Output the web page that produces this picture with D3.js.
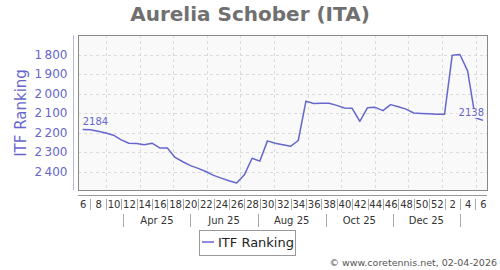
<!DOCTYPE html>
<html>
<head>
<meta charset="utf-8">
<script src="https://cdn.jsdelivr.net/npm/d3@7/dist/d3.min.js"></script>
<style>
	body { margin: 0; background: #fff; }
	svg { display: block; font-family: "DejaVu Sans", sans-serif; }
</style>
</head>
<body>
<svg id="chart" width="500" height="270"></svg>
<script>
(function() {

	// weekly ITF ranking, week 6 2025 -> week 6 2026
	var ranking = [2184, 2186, 2194, 2203, 2214, 2238, 2255, 2257, 2263, 2255,
		2279, 2280, 2328, 2350, 2370, 2384, 2400, 2420, 2434, 2447,
		2459, 2417, 2332, 2347, 2243, 2255, 2263, 2271, 2241, 2039,
		2051, 2050, 2050, 2061, 2074, 2076, 2143, 2073, 2071, 2088,
		2057, 2068, 2080, 2100, 2102, 2104, 2107, 2107, 1804, 1800,
		1884, 2124, 2138];
	var firstWeek = new Date(2025, 1, 8);
	var weekLabels = [6, 8, 10, 12, 14, 16, 18, 20, 22, 24, 26, 28, 30, 32, 34, 36, 38, 40, 42, 44, 46, 48, 50, 52, 2, 4, 6];
	var monthLabels = ['Apr 25', 'Jun 25', 'Aug 25', 'Oct 25', 'Dec 25'];
	var monthStarts = ['2025-03-01', '2025-04-01', '2025-05-01', '2025-06-01', '2025-07-01', '2025-08-01',
		'2025-09-01', '2025-10-01', '2025-11-01', '2025-12-01', '2026-01-01', '2026-02-01'];
	var monthSeps = ['2025-03-17', '2025-05-17', '2025-07-17', '2025-09-17', '2025-11-17', '2026-01-17'];
	var yTicks = [1800, 1900, 2000, 2100, 2200, 2300, 2400];

	var plotLeft = 78, plotRight = 487, plotTop = 35, plotBottom = 190,
		lineColor = '#6666cc',
		parse = d3.timeParse('%Y-%m-%d');

	var data = ranking.map(function(v, i) { return { date: d3.timeDay.offset(firstWeek, 7 * i), value: v }; });

	var x = d3.scaleTime()
		.domain([data[0].date, data[data.length - 1].date])
		.range([82.7, 483]);
	var y = d3.scaleLinear().domain([1700, 2500]).range([35, 191]);

	var svg = d3.select('#chart');

	svg.append('text')
		.attr('x', 250).attr('y', 21)
		.attr('text-anchor', 'middle')
		.attr('font-size', 20).attr('font-weight', 'bold')
		.attr('fill', '#707070')
		.text('Aurelia Schober (ITA)');

	// plot background
	svg.append('rect')
		.attr('x', plotLeft + 0.5).attr('y', plotTop + 0.5)
		.attr('width', plotRight - plotLeft).attr('height', plotBottom - plotTop)
		.attr('fill', '#f9f9f9');

	var grid = svg.append('g')
		.attr('stroke', '#dadada').attr('stroke-dasharray', '3,3').attr('stroke-width', 1);
	grid.selectAll('.hg').data(yTicks).enter().append('line')
		.attr('x1', plotLeft).attr('x2', plotRight)
		.attr('y1', function(d) { return Math.round(y(d)) + 0.5; })
		.attr('y2', function(d) { return Math.round(y(d)) + 0.5; });
	grid.selectAll('.vg').data(monthStarts).enter().append('line')
		.attr('y1', plotTop).attr('y2', plotBottom)
		.attr('x1', function(d) { return Math.round(x(parse(d))) + 0.5; })
		.attr('x2', function(d) { return Math.round(x(parse(d))) + 0.5; });

	svg.append('rect')
		.attr('x', plotLeft + 0.5).attr('y', plotTop + 0.5)
		.attr('width', plotRight - plotLeft).attr('height', plotBottom - plotTop)
		.attr('fill', 'none').attr('stroke', '#888');

	// y axis
	var fmt = function(d) { return d3.format(',')(d).replace(',', '\u2009'); };
	var yAxis = svg.append('g')
		.attr('transform', 'translate(73.5,0)')
		.call(d3.axisLeft(y).tickValues(yTicks).tickSize(0).tickPadding(6).tickFormat(fmt));
	yAxis.select('.domain').attr('stroke', '#b8b8e6').attr('d', 'M0,' + plotTop + 'V' + plotBottom);
	yAxis.selectAll('text')
		.attr('font-size', 12).attr('fill', lineColor)
		.attr('font-family', '"DejaVu Sans", sans-serif');

	svg.append('text')
		.attr('transform', 'translate(26,113) rotate(-90)')
		.attr('text-anchor', 'middle')
		.attr('font-size', 15).attr('fill', lineColor)
		.text('ITF Ranking');

	// x axis: weeks
	var labelDates = data.filter(function(d, i) { return i % 2 === 0; }).map(function(d) { return d.date; });
	var xAxis = svg.append('g')
		.attr('transform', 'translate(0,195.5)')
		.call(d3.axisBottom(x).tickValues(labelDates).tickSize(0).tickPadding(5)
			.tickFormat(function(d, i) { return weekLabels[i]; }));
	xAxis.select('.domain').attr('stroke', '#999').attr('d', 'M' + plotLeft + ',0H' + plotRight);
	xAxis.selectAll('text')
		.attr('font-size', 10).attr('fill', '#333')
		.attr('font-family', '"DejaVu Sans", sans-serif');

	var sepWeeks = data.filter(function(d, i) { return i % 2 === 1; });
	svg.append('g').attr('stroke', '#aaa')
		.selectAll('line').data(sepWeeks).enter().append('line')
		.attr('x1', function(d) { return Math.round(x(d.date)) + 0.5; })
		.attr('x2', function(d) { return Math.round(x(d.date)) + 0.5; })
		.attr('y1', 199).attr('y2', 210);

	// x axis: months
	var seps = monthSeps.map(parse);
	svg.append('g').attr('stroke', '#aaa')
		.selectAll('line').data(seps).enter().append('line')
		.attr('x1', function(d) { return Math.round(x(d)) + 0.5; })
		.attr('x2', function(d) { return Math.round(x(d)) + 0.5; })
		.attr('y1', 214).attr('y2', 227);
	svg.append('g')
		.selectAll('text').data(monthLabels).enter().append('text')
		.attr('x', function(d, i) { return (x(seps[i]) + x(seps[i + 1])) / 2; })
		.attr('y', 224)
		.attr('text-anchor', 'middle')
		.attr('font-size', 10).attr('fill', '#333')
		.text(function(d) { return d; });

	// line
	var line = d3.line()
		.x(function(d) { return x(d.date); })
		.y(function(d) { return y(d.value); });
	svg.append('path')
		.datum(data)
		.attr('d', line)
		.attr('fill', 'none')
		.attr('stroke', lineColor)
		.attr('stroke-width', 1.5)
		.attr('stroke-linejoin', 'round');

	// first and last value labels
	var first = data[0], last = data[data.length - 1];
	var ends = [
		{ d: first, anchor: 'start', dx: 0, dy: -4 },
		{ d: last, anchor: 'end', dx: 1, dy: -4.5 }
	];
	var lab = svg.append('g').selectAll('g').data(ends).enter().append('g');
	lab.append('text')
		.attr('x', function(e) { return x(e.d.date) + e.dx; })
		.attr('y', function(e) { return y(e.d.value) + e.dy; })
		.attr('text-anchor', function(e) { return e.anchor; })
		.attr('font-size', 10).attr('fill', lineColor)
		.text(function(e) { return e.d.value; });
	lab.each(function() {
		var g = d3.select(this), bb = g.select('text').node().getBBox();
		g.insert('rect', 'text')
			.attr('x', bb.x - 1).attr('y', bb.y + 1)
			.attr('width', bb.width + 2).attr('height', bb.height - 1)
			.attr('fill', '#f9f9f9');
	});

	// legend
	var legend = svg.append('g');
	legend.append('rect')
		.attr('x', 199.5).attr('y', 230.5).attr('width', 96).attr('height', 25)
		.attr('fill', '#fff').attr('stroke', '#999');
	legend.append('line')
		.attr('x1', 202).attr('x2', 214).attr('y1', 242).attr('y2', 242)
		.attr('stroke', lineColor).attr('stroke-width', 1.5);
	legend.append('text')
		.attr('x', 218).attr('y', 247)
		.attr('font-size', 13).attr('fill', '#222')
		.text('ITF Ranking');

	svg.append('text')
		.attr('x', 497).attr('y', 266)
		.attr('text-anchor', 'end')
		.attr('font-size', 9.5).attr('fill', '#555')
		.text('\u00a9 www.coretennis.net, 02-04-2026');

})();
</script>
</body>
</html>
